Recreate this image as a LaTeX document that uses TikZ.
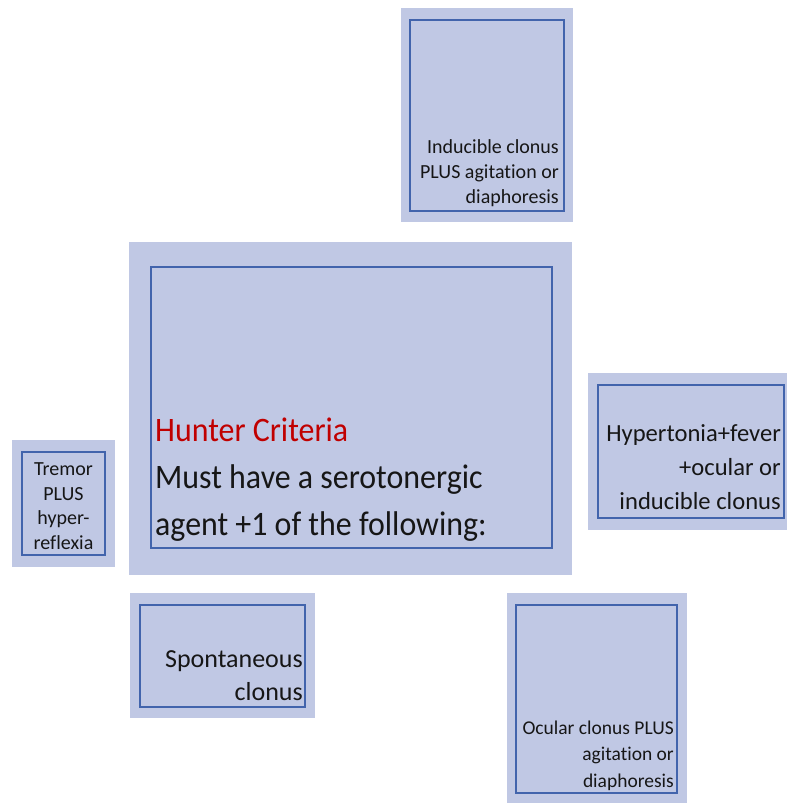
\documentclass[tikz,border=0pt]{standalone}
\usepackage{fontspec}
\setmainfont{Carlito}[Ligatures=NoCommon]
\newfontfamily\hunterfont{Carlito}[Ligatures=NoCommon,FakeStretch=0.93]
\definecolor{boxfill}{RGB}{192,200,228}
\definecolor{boxline}{RGB}{66,100,172}
\definecolor{huntred}{RGB}{192,0,0}
\definecolor{txt}{RGB}{22,22,22}
\begin{document}
\begin{tikzpicture}[x=1pt,y=-1pt,
  outerbox/.style={fill=boxfill},
  innerbox/.style={draw=boxline, line width=1.3pt},
  lbl/.style={inner sep=0pt, text=txt}]
\useasboundingbox[fill=white] (0,0) rectangle (787,805);

% top box
\fill[outerbox] (401,8) rectangle (573,222);
\draw[innerbox] (410,20) rectangle (564,211);
\node[lbl, align=right, anchor=base east, font=\fontsize{20}{24.5}\selectfont] (inducible) at (559,203)
  {Inducible clonus\\PLUS agitation or\\diaphoresis};

% main box
\fill[outerbox] (129,242) rectangle (572,575);
\draw[innerbox] (151,267) rectangle (552,548);
\node[lbl, align=left, anchor=base west, font=\hunterfont\fontsize{34.3}{46.7}\selectfont] (hunter) at (155,535)
  {\textcolor{huntred}{Hunter Criteria}\\Must have a serotonergic\\agent +1 of the following:};

% tremor box
\fill[outerbox] (12,440) rectangle (115,567);
\draw[innerbox] (22,452) rectangle (105,555);
\node[lbl, align=center, anchor=base, font=\fontsize{20}{24.5}\selectfont] (tremor) at (63.5,549)
  {Tremor\\PLUS\\hyper-\\reflexia};

% hypertonia box
\fill[outerbox] (588,373) rectangle (787,530);
\draw[innerbox] (598,385) rectangle (784,518);
\node[lbl, align=right, anchor=base east, font=\fontsize{24.6}{34}\selectfont] (hypertonia) at (781,509)
  {Hypertonia+fever\\+ocular or\\inducible clonus};

% spontaneous box
\fill[outerbox] (130,593) rectangle (315,718);
\draw[innerbox] (140,605) rectangle (305,707);
\node[lbl, align=right, anchor=base east, font=\fontsize{26}{33}\selectfont] (spontaneous) at (303,700)
  {Spontaneous\\clonus};

% ocular box
\fill[outerbox] (507,593) rectangle (687,803);
\draw[innerbox] (516,605) rectangle (677,793);
\node[lbl, align=right, anchor=base east, font=\fontsize{19.5}{26.5}\selectfont] (ocular) at (674,787)
  {Ocular clonus PLUS\\agitation or\\diaphoresis};
\end{tikzpicture}
\end{document}
